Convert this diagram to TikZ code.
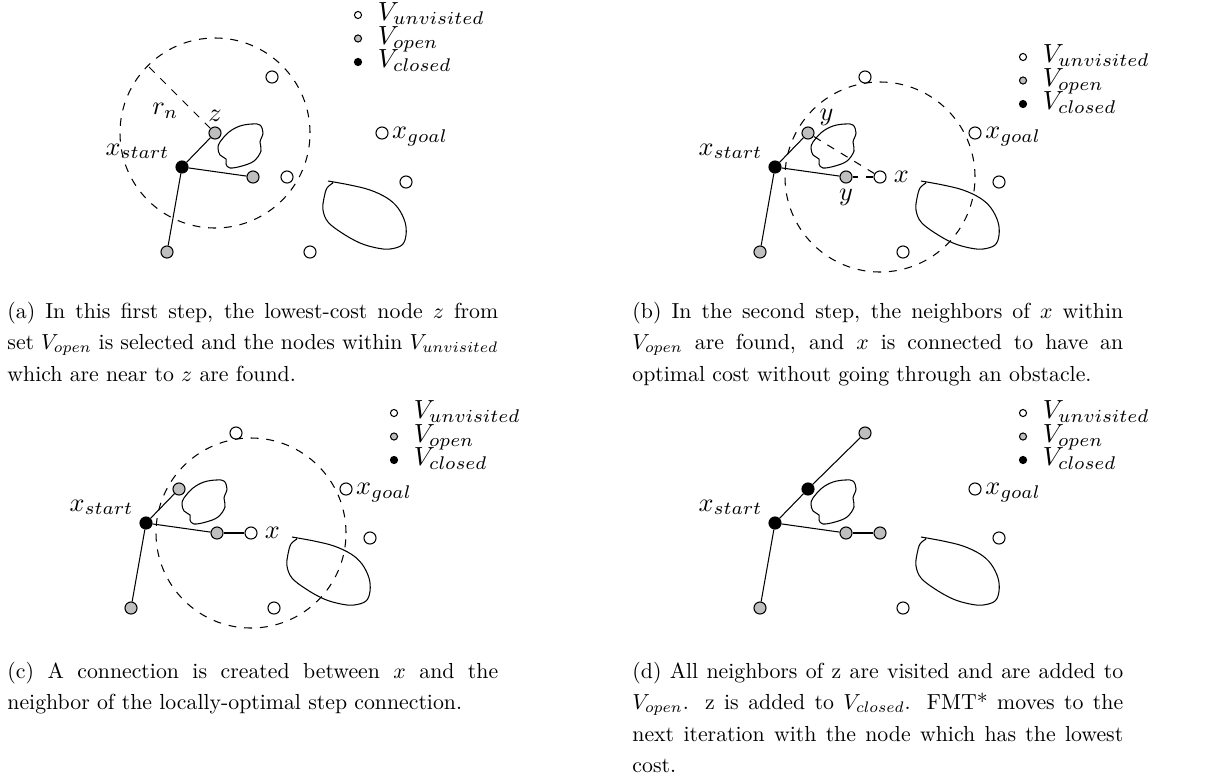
\documentclass[tikz,border=0pt]{standalone}
\usepackage{amsmath,amssymb}
\usetikzlibrary{positioning}

% captions: 10pt text, no hyphenation
\newcommand{\capfont}{\fontsize{10}{14.46}\selectfont\hyphenpenalty=10000\relax\tolerance=2000\relax}

% the two obstacles, in coordinates relative to x_start
\newcommand{\drawobstacles}{%
  \draw plot[smooth cycle,tension=0.6] coordinates {(38,-25) (47,-35) (58,-41) (70,-43) (78,-42) (81,-34) (78,-25) (79,-16) (72,-6) (60,-1) (48,1) (44,-3) (44,-8) (38,-12) (36,-19)};
  \draw plot[smooth,tension=0.6] coordinates {(146,14) (168,18) (188,23) (205,31) (216,41) (223,55) (224,68) (220,78) (208,82) (195,81) (178,76) (160,66) (146,55) (141,43) (142,31) (145,21) (151,16)};}

\begin{document}
\hyphenpenalty=10000\relax
\tolerance=2000\relax
\begin{tikzpicture}[x=0.381pt,y=-0.381pt,
  every node/.style={font=\normalsize},
  unvis/.style={circle,draw,fill=white,inner sep=0pt,minimum size=4.6pt},
  openv/.style={unvis,fill=gray!50},
  closedv/.style={unvis,fill=black},
  legdot/.style={minimum size=2.7pt},
  lbl/.style={inner sep=0pt},
  reach/.style={dashed},
  capbox/.style={text width=225.3pt,align=justify,inner sep=0pt,anchor=base west,
    scale=0.83,transform shape,font=\capfont}]
\useasboundingbox (0,0) rectangle (1231,776);

% (a)
\begin{scope}[shift={(182,167)}]
\coordinate (a-c) at (33,-34);
\draw[reach] (a-c) circle[radius=36.2pt];
\drawobstacles
\node[closedv] (a-start) at (0,0) {};
\node[openv] (a-z) at (33,-34) {};
\node[openv] (a-near) at (71,10) {};
\node[openv] (a-low) at (-15,85) {};
\node[unvis] (a-top) at (90,-90) {};
\node[unvis] (a-x) at (105,10) {};
\node[unvis] (a-right) at (224,15) {};
\node[unvis] (a-bottom) at (128,85) {};
\node[unvis] (a-goal) at (200,-34) {};
\coordinate (a-rim) at (-33,-100);
\draw (a-start)--(a-z);
\draw (a-start)--(a-near);
\draw (a-start)--(a-low);
\draw[reach] (a-z)--(a-rim) node[lbl,pos=0.28,left=5.4pt] (a-rlbl) {$r_n$};
\node[lbl,anchor=base east] (a-slbl) at (-12,-12) {$x_{start}$};
\node[lbl,right=1.2pt of a-goal,anchor=mid west] (a-glbl) {$x_{goal}$};
\node[lbl,above=1.8pt of a-z] (a-zlbl) {$z$};
\node[unvis,legdot] (a-lu) at (176,-152) {};
\node[openv,legdot] (a-lo) at (176,-128.5) {};
\node[closedv,legdot] (a-lc) at (176,-105) {};
\node[lbl,right=5.8pt of a-lu,anchor=mid west] (a-lutxt) {$V_{unvisited}$};
\node[lbl,right=5.8pt of a-lo,anchor=mid west] (a-lotxt) {$V_{open}$};
\node[lbl,right=5.8pt of a-lc,anchor=mid west] (a-lctxt) {$V_{closed}$};
\end{scope}

% (b)
\begin{scope}[shift={(775,167)}]
\coordinate (b-c) at (105,10);
\draw[reach] (b-c) circle[radius=36.2pt];
\drawobstacles
\node[closedv] (b-start) at (0,0) {};
\node[openv] (b-y1) at (33,-34) {};
\node[openv] (b-y2) at (71,10) {};
\node[openv] (b-low) at (-15,85) {};
\node[unvis] (b-top) at (90,-90) {};
\node[unvis] (b-x) at (105,10) {};
\node[unvis] (b-right) at (224,15) {};
\node[unvis] (b-bottom) at (128,85) {};
\node[unvis] (b-goal) at (200,-34) {};
\draw (b-start)--(b-y1);
\draw (b-start)--(b-y2);
\draw (b-start)--(b-low);
\draw[reach] (b-x)--(b-y1);
\draw[reach] (b-x)--(b-y2);
\node[lbl,anchor=base east] (b-slbl) at (-12,-12) {$x_{start}$};
\node[lbl,right=1.2pt of b-goal,anchor=mid west] (b-glbl) {$x_{goal}$};
\node[lbl,right=2.6pt of b-x,anchor=mid west] (b-xlbl) {$x$};
\node[lbl,above right=1pt and 2.5pt of b-y1] (b-y1lbl) {$y$};
\node[lbl,below=1.9pt of b-y2] (b-y2lbl) {$y$};
\node[unvis,legdot] (b-lu) at (248,-110) {};
\node[openv,legdot] (b-lo) at (248,-86.5) {};
\node[closedv,legdot] (b-lc) at (248,-63) {};
\node[lbl,right=5.8pt of b-lu,anchor=mid west] (b-lutxt) {$V_{unvisited}$};
\node[lbl,right=5.8pt of b-lo,anchor=mid west] (b-lotxt) {$V_{open}$};
\node[lbl,right=5.8pt of b-lc,anchor=mid west] (b-lctxt) {$V_{closed}$};
\end{scope}

% (c)
\begin{scope}[shift={(146,523)}]
\coordinate (c-c) at (105,10);
\draw[reach] (c-c) circle[radius=36.2pt];
\drawobstacles
\node[closedv] (c-start) at (0,0) {};
\node[openv] (c-y1) at (33,-34) {};
\node[openv] (c-y2) at (71,10) {};
\node[openv] (c-low) at (-15,85) {};
\node[unvis] (c-top) at (90,-90) {};
\node[unvis] (c-x) at (105,10) {};
\node[unvis] (c-right) at (224,15) {};
\node[unvis] (c-bottom) at (128,85) {};
\node[unvis] (c-goal) at (200,-34) {};
\draw (c-start)--(c-y1);
\draw (c-start)--(c-y2);
\draw (c-start)--(c-low);
\draw (c-y2)--(c-x);
\node[lbl,anchor=base east] (c-slbl) at (-12,-12) {$x_{start}$};
\node[lbl,right=1.2pt of c-goal,anchor=mid west] (c-glbl) {$x_{goal}$};
\node[lbl,right=2.6pt of c-x,anchor=mid west] (c-xlbl) {$x$};
\node[unvis,legdot] (c-lu) at (248,-110) {};
\node[openv,legdot] (c-lo) at (248,-86.5) {};
\node[closedv,legdot] (c-lc) at (248,-63) {};
\node[lbl,right=5.8pt of c-lu,anchor=mid west] (c-lutxt) {$V_{unvisited}$};
\node[lbl,right=5.8pt of c-lo,anchor=mid west] (c-lotxt) {$V_{open}$};
\node[lbl,right=5.8pt of c-lc,anchor=mid west] (c-lctxt) {$V_{closed}$};
\end{scope}

% (d)
\begin{scope}[shift={(775,523)}]
\drawobstacles
\node[closedv] (d-start) at (0,0) {};
\node[closedv] (d-z) at (33,-34) {};
\node[openv] (d-y2) at (71,10) {};
\node[openv] (d-low) at (-15,85) {};
\node[openv] (d-top) at (90,-90) {};
\node[openv] (d-x) at (105,10) {};
\node[unvis] (d-right) at (224,15) {};
\node[unvis] (d-bottom) at (128,85) {};
\node[unvis] (d-goal) at (200,-34) {};
\draw (d-start)--(d-z);
\draw (d-z)--(d-top);
\draw (d-start)--(d-y2);
\draw (d-y2)--(d-x);
\draw (d-start)--(d-low);
\node[lbl,anchor=base east] (d-slbl) at (-12,-12) {$x_{start}$};
\node[lbl,right=1.2pt of d-goal,anchor=mid west] (d-glbl) {$x_{goal}$};
\node[unvis,legdot] (d-lu) at (248,-110) {};
\node[openv,legdot] (d-lo) at (248,-86.5) {};
\node[closedv,legdot] (d-lc) at (248,-63) {};
\node[lbl,right=5.8pt of d-lu,anchor=mid west] (d-lutxt) {$V_{unvisited}$};
\node[lbl,right=5.8pt of d-lo,anchor=mid west] (d-lotxt) {$V_{open}$};
\node[lbl,right=5.8pt of d-lc,anchor=mid west] (d-lctxt) {$V_{closed}$};
\end{scope}

% captions
\node[capbox] (cap-a) at (7,318) {(a) In this first step, the lowest-cost node $z$ from set $V_{open}$ is selected and the nodes within $V_{unvisited}$ which are near to $z$ are found.};
\node[capbox] (cap-b) at (632,318) {(b) In the second step, the neighbors of $x$ within $V_{open}$ are found, and $x$ is connected to have an optimal cost without going through an obstacle.};
\node[capbox] (cap-c) at (7,678) {(c) A connection is created between $x$ and the neighbor of the locally-optimal step connection.};
\node[capbox] (cap-d) at (632,678) {(d) All neighbors of z are visited and are added to $V_{open}$. z is added to $V_{closed}$. FMT* moves to the next iteration with the node which has the lowest cost.};
\end{tikzpicture}
\end{document}
